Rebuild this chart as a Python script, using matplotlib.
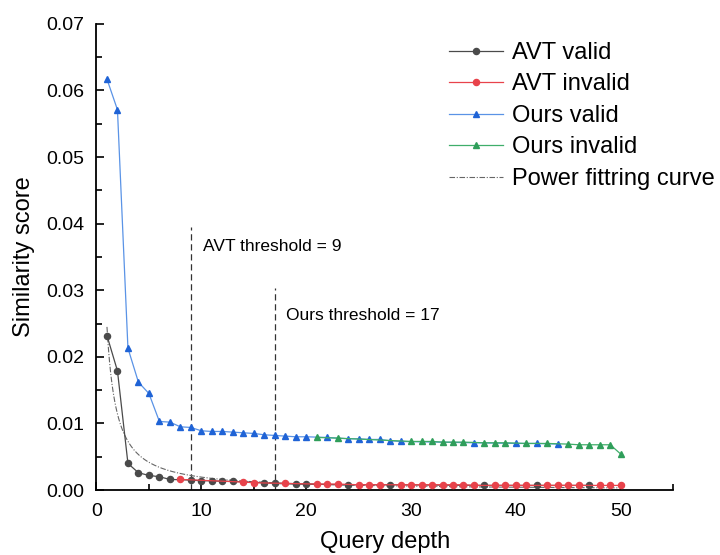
import matplotlib.pyplot as plt
import numpy as np
from matplotlib.ticker import MultipleLocator

plt.rcParams['font.family'] = ['Liberation Sans', 'DejaVu Sans']

# query depth 1..50
depth = list(range(1, 51))

avtScores = [0.0232, 0.0179, 0.0040, 0.0026, 0.0022, 0.0020, 0.0016, 0.0016, 0.0015, 0.0014,
             0.0014, 0.0013, 0.0013, 0.0012, 0.0011, 0.0011, 0.0010, 0.0010, 0.0009, 0.0009,
             0.0009, 0.0009, 0.0009, 0.0008, 0.0008, 0.0008, 0.0008, 0.0008, 0.0008, 0.0008,
             0.0008, 0.0008, 0.0008, 0.0008, 0.0008, 0.0007, 0.0007, 0.0007, 0.0007, 0.0007,
             0.0007, 0.0007, 0.0007, 0.0007, 0.0007, 0.0007, 0.0007, 0.0007, 0.0007, 0.0007]

oursScores = [0.0617, 0.0571, 0.0213, 0.0162, 0.0145, 0.0103, 0.0102, 0.0095, 0.0094, 0.0089,
              0.0088, 0.0088, 0.0087, 0.0086, 0.0085, 0.0083, 0.0082, 0.0081, 0.0080, 0.0080,
              0.0079, 0.0079, 0.0078, 0.0077, 0.0077, 0.0076, 0.0076, 0.0074, 0.0073, 0.0073,
              0.0073, 0.0073, 0.0072, 0.0072, 0.0072, 0.0071, 0.0071, 0.0071, 0.0071, 0.0070,
              0.0070, 0.0070, 0.0070, 0.0069, 0.0069, 0.0068, 0.0068, 0.0068, 0.0068, 0.0054]

# depths whose retrieved result was invalid
avtInvalid = [8, 14, 15, 18, 21, 22, 23, 25, 26, 27, 29, 30, 31, 32, 33, 34, 35, 36,
              38, 39, 40, 41, 43, 44, 45, 46, 48, 49, 50]
oursInvalid = [21, 23, 30, 31, 32, 33, 34, 35, 37, 38, 39, 41, 43, 45, 46, 47, 48, 49, 50]

# power fit y = a * x^-b
fitA = 0.0245
fitB = 1.1

avtThreshold = 9
oursThreshold = 17
avtLineTop = 0.0395
oursLineTop = 0.0303

def splitSeries(scores, invalid):
    valid = [(d, s) for d, s in zip(depth, scores) if d not in invalid]
    bad = [(d, s) for d, s in zip(depth, scores) if d in invalid]
    return list(zip(*valid)), list(zip(*bad))

fig = plt.figure(figsize=(7.2, 5.55), dpi=100)
ax = fig.add_axes([0.134, 0.117, 0.801, 0.84])

(avtVx, avtVy), (avtIx, avtIy) = splitSeries(avtScores, avtInvalid)
(oursVx, oursVy), (oursIx, oursIy) = splitSeries(oursScores, oursInvalid)

ax.plot(avtVx, avtVy, color='#4a4a4a', lw=0.9, marker='o', ms=4.4, mec='#4a4a4a', mfc='#4a4a4a', label='AVT valid', zorder=3)
ax.plot(avtIx, avtIy, color='#e8434b', lw=0.9, marker='o', ms=4.4, mec='#e8434b', mfc='#e8434b', label='AVT invalid', zorder=4)
ax.plot(oursVx, oursVy, color='#5a93e6', lw=0.9, marker='^', ms=5, mec='#1f63d6', mfc='#1f63d6', label='Ours valid', zorder=3)
ax.plot(oursIx, oursIy, color='#3fae6a', lw=0.9, marker='^', ms=5, mec='#2f9e5a', mfc='#2f9e5a', label='Ours invalid', zorder=4)

fitX = np.linspace(1, 50, 400)
ax.plot(fitX, fitA * fitX ** -fitB, color='#666666', lw=0.8, ls=(0, (5, 1.5, 1, 1.5)), label='Power fittring curve', zorder=2)

# threshold markers
ax.plot([avtThreshold, avtThreshold], [0, avtLineTop], color='#333333', lw=0.9, ls=(0, (5, 3)), zorder=1)
ax.plot([oursThreshold, oursThreshold], [0, oursLineTop], color='#333333', lw=0.9, ls=(0, (5, 3)), zorder=1)
ax.text(avtThreshold + 1.2, 0.0366, 'AVT threshold = 9', fontsize=12.5, va='center', ha='left')
ax.text(oursThreshold + 1.1, 0.0262, 'Ours threshold = 17', fontsize=12.5, va='center', ha='left')

ax.set_xlim(0, 55)
ax.set_ylim(0, 0.07)
ax.xaxis.set_major_locator(MultipleLocator(10))
ax.xaxis.set_minor_locator(MultipleLocator(5))
ax.yaxis.set_major_locator(MultipleLocator(0.01))
ax.yaxis.set_minor_locator(MultipleLocator(0.005))
ax.yaxis.set_major_formatter(plt.FormatStrFormatter('%.2f'))
ax.tick_params(which='both', direction='in', width=1.2, labelsize=14, colors='black')
ax.tick_params(which='major', length=6, pad=9)
ax.tick_params(which='minor', length=4)
for side in ['top', 'right']:
    ax.spines[side].set_visible(False)
for side in ['left', 'bottom']:
    ax.spines[side].set_linewidth(1.3)

ax.set_xlabel('Query depth', fontsize=17, labelpad=8)
ax.set_ylabel('Similarity score', fontsize=17, labelpad=8)

# legend sits just left of the right edge, no frame
ax.legend(loc='upper left', bbox_to_anchor=(449 / 720, 1 - 42 / 555), bbox_transform=fig.transFigure,
          frameon=False, fontsize=17, borderpad=0, borderaxespad=0,
          handlelength=2.3, handletextpad=0.35, labelspacing=0.4)

fig.savefig('out.png', dpi=100)
